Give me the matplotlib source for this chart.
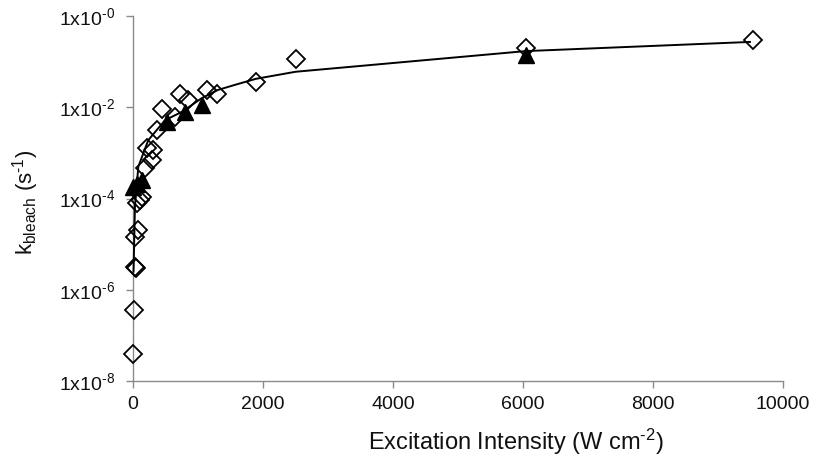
import matplotlib
matplotlib.use("Agg")
import matplotlib.pyplot as plt
import numpy as np

plt.rcParams['font.family'] = ['Liberation Sans', 'DejaVu Sans']
plt.rcParams['mathtext.fontset'] = 'custom'
plt.rcParams['mathtext.rm'] = 'Liberation Sans'
plt.rcParams['mathtext.it'] = 'Liberation Sans'
plt.rcParams['mathtext.bf'] = 'Liberation Sans'
plt.rcParams['mathtext.default'] = 'regular'

# Open diamonds (measured data)
diamond_x = [5, 20, 28, 40, 30, 80, 57, 108, 134, 185, 288, 312, 210, 365, 440,
             645, 723, 850, 1134, 1288, 1892, 2503, 6040, 9543]
diamond_y = [4.0e-8, 3.6e-7, 3.2e-6, 3.0e-6, 1.45e-5, 2.0e-5, 8.0e-5, 9.2e-5, 1.1e-4,
             4.6e-4, 7.0e-4, 1.15e-3, 1.25e-3, 3.2e-3, 9.0e-3,
             6.2e-3, 1.95e-2, 1.45e-2, 2.4e-2, 2.0e-2, 3.57e-2, 0.112, 0.20, 0.30]

# Filled triangles
tri_x = [5, 57, 134, 518, 800, 1057, 6040]
tri_y = [1.8e-4, 2.1e-4, 2.5e-4, 4.8e-3, 8.0e-3, 1.12e-2, 0.14]

# Fit curve
fit_x = [8, 30, 82, 235, 492, 750, 1057, 1308, 1570, 1892, 2503, 6040, 9492]
fit_y = [2.5e-6, 6.6e-5, 5.0e-4, 1.9e-3, 5.2e-3, 7.9e-3, 1.58e-2, 2.4e-2,
         3.1e-2, 4.2e-2, 6.0e-2, 0.17, 0.27]

xticks = [0, 2000, 4000, 6000, 8000, 10000]
yticks = [1e-8, 1e-6, 1e-4, 1e-2, 1e0]
ytick_labels = [r'1x10$^{\text{-8}}$', r'1x10$^{\text{-6}}$',
                r'1x10$^{\text{-4}}$', r'1x10$^{\text{-2}}$',
                r'1x10$^{\text{-0}}$']

W, H = 813, 459
fig = plt.figure(figsize=(8.13, 4.59), dpi=100)
ax = fig.add_axes([133/W, 1-381/H, (783-133)/W, (381-16)/H])

ax.plot(fit_x, fit_y, color='black', lw=1.4, zorder=3, clip_on=False)
ax.plot(diamond_x, diamond_y, linestyle='none', marker='D', ms=9, mfc='none',
        mec='black', mew=1.3, zorder=2, clip_on=False)
ax.plot(tri_x, tri_y, linestyle='none', marker='^', ms=12, mfc='black',
        mec='black', zorder=4, clip_on=False)

ax.set_yscale('log')
ax.set_xlim(0, 10000)
ax.set_ylim(1e-8, 1e0)
ax.set_xticks(xticks)
ax.set_xticklabels([str(t) for t in xticks])
ax.set_yticks(yticks)
ax.set_yticklabels(ytick_labels)
ax.yaxis.set_minor_locator(matplotlib.ticker.NullLocator())

for s in ['top', 'right']:
    ax.spines[s].set_visible(False)
for s in ['left', 'bottom']:
    ax.spines[s].set_color('#8a8a8a')
    ax.spines[s].set_linewidth(1.0)
    ax.spines[s].set_zorder(1)

ax.tick_params(axis='both', colors='#8a8a8a', labelcolor='#111111', labelsize=14,
               length=5, width=1.0, direction='out')
ax.tick_params(axis='x', pad=6)
ax.tick_params(axis='y', pad=8)

fig.text(516/W, 1-442/H, r'Excitation Intensity (W cm$^{\text{-2}}$)', fontsize=17,
         color='#111111', ha='center', va='center')
fig.text(26/W, 1-202/H, r'k$_{\text{bleach}}$ (s$^{\text{-1}}$)', fontsize=16,
         color='#111111', ha='center', va='center', rotation=90)

fig.savefig('out.png', dpi=100)
